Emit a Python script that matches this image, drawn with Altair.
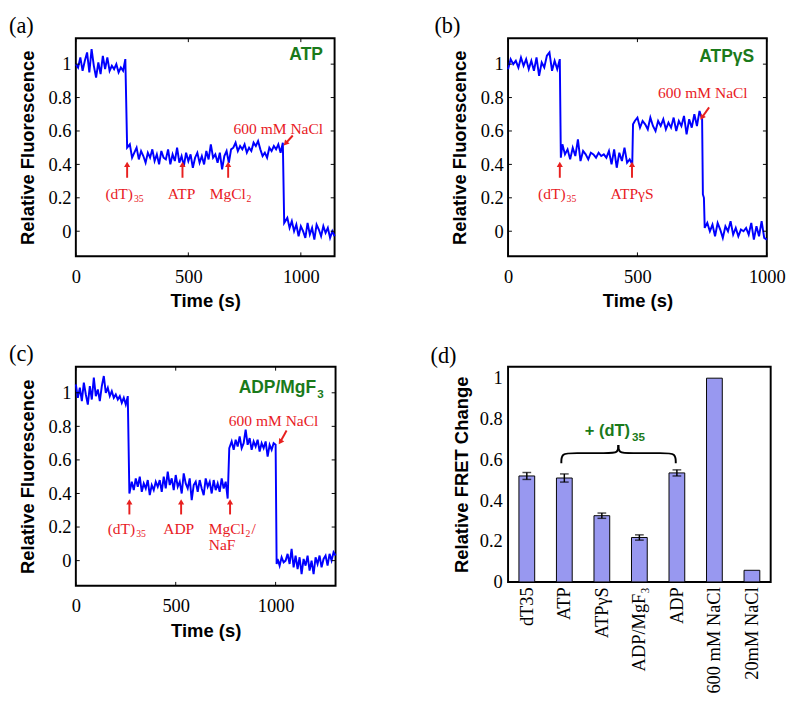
import altair as alt
import pandas as pd

BLUE = "#0000ff"
RED = "#e8201f"
GREEN = "#1a7a1a"
SERIF = "Liberation Serif"
SANS = "Liberation Sans"

# ---------------- data: (a) ATP ----------------
a_time = list(range(0, 221, 10)) + [228] + list(range(240, 921, 10)) + [926] + list(range(940, 1151, 10))
a_val = [
    1.00, 0.98, 1.04, 0.96, 1.02, 1.07, 0.95, 1.09, 0.99, 0.92, 1.01, 0.94, 1.05, 0.97, 1.04, 0.96,
    0.99, 0.97, 1.00, 0.95, 0.98, 0.96, 1.03,
    0.50, 0.52, 0.44, 0.47, 0.50, 0.43, 0.48,
    0.45, 0.41, 0.47, 0.44, 0.49, 0.42, 0.46, 0.40, 0.48, 0.44,
    0.43, 0.49, 0.40, 0.46, 0.42, 0.50, 0.41, 0.45, 0.39, 0.47,
    0.42, 0.46, 0.38, 0.44, 0.47, 0.41, 0.45, 0.40, 0.48, 0.43,
    0.52, 0.44, 0.46, 0.41, 0.47, 0.37, 0.45, 0.48, 0.41, 0.49,
    0.50, 0.53, 0.48, 0.51, 0.49, 0.52, 0.47, 0.50, 0.48, 0.53,
    0.51, 0.54, 0.49, 0.45, 0.47, 0.44, 0.50, 0.48, 0.51, 0.49,
    0.52, 0.47, 0.53,
    0.05, 0.08, 0.02, 0.06, 0.00, 0.04, -0.03, 0.03, 0.00, -0.04, 0.05, -0.02, 0.02, -0.05, 0.04,
    0.01, -0.03, 0.03, -0.01, 0.02, -0.04, 0.00, -0.03,
]

# ---------------- data: (b) ATPgammaS ----------------
b_time = (list(range(0, 201, 10)) + [204] + list(range(210, 481, 10)) + [483] + list(range(490, 751, 10))
          + [753, 757] + list(range(760, 1001, 10)))
b_val = [
    0.97, 1.03, 1.00, 1.02, 0.98, 1.04, 0.99, 1.03, 0.97, 1.02, 0.96, 1.04, 0.93, 1.01, 0.98, 1.05,
    1.07, 0.96, 1.02, 0.97, 1.03,
    0.44, 0.52, 0.46, 0.49, 0.43, 0.50, 0.45, 0.55, 0.42, 0.48, 0.46, 0.43, 0.47, 0.46, 0.44, 0.47,
    0.45, 0.46, 0.44, 0.48, 0.40, 0.49, 0.38, 0.47, 0.42, 0.50, 0.41, 0.43, 0.40,
    0.64, 0.66, 0.68, 0.62, 0.66, 0.64, 0.61, 0.68, 0.63, 0.60, 0.66, 0.63, 0.67, 0.61, 0.65, 0.62,
    0.68, 0.60, 0.66, 0.63, 0.69, 0.58, 0.67, 0.62, 0.70, 0.63, 0.72, 0.67,
    0.22, 0.20, 0.02, 0.05, 0.00, 0.04, -0.03, 0.05, 0.01, -0.04, 0.03, 0.00, 0.06, -0.02, 0.02,
    -0.03, 0.01, 0.00, 0.02, -0.02, 0.05, -0.05, 0.03, -0.03, 0.06, -0.04, -0.05,
]

# ---------------- data: (c) ADP/MgF3 ----------------
c_time = (list(range(0, 261, 10)) + [268] + list(range(280, 761, 10)) + [768] + list(range(780, 1001, 10))
          + [1005] + list(range(1010, 1301, 10)))
c_val = [
    1.05, 0.97, 1.03, 0.95, 1.06, 0.99, 0.93, 1.04, 0.96, 1.09, 0.98, 1.02, 0.95, 1.04, 1.10, 1.00,
    1.03, 0.98, 1.01, 0.97, 0.99, 0.96, 0.98, 0.94, 0.97, 0.93, 0.98,
    0.40, 0.47, 0.42, 0.49, 0.44, 0.50, 0.41, 0.46, 0.43, 0.48,
    0.39, 0.45, 0.42, 0.47, 0.44, 0.48, 0.41, 0.50, 0.43, 0.53,
    0.45, 0.49, 0.42, 0.51, 0.44, 0.47, 0.40, 0.52, 0.46, 0.43,
    0.49, 0.36, 0.45, 0.47, 0.41, 0.48, 0.43, 0.39, 0.49, 0.44,
    0.47, 0.40, 0.48, 0.42, 0.46, 0.41, 0.49, 0.43, 0.47, 0.37,
    0.67, 0.71, 0.66, 0.72, 0.68, 0.74, 0.67, 0.70, 0.78, 0.69,
    0.73, 0.66, 0.71, 0.68, 0.72, 0.65, 0.70, 0.67, 0.71, 0.62,
    0.69, 0.66, 0.70, 0.69,
    -0.02, 0.01, -0.03, 0.02, -0.01, 0.00, 0.04, -0.02, 0.07, -0.04,
    0.03, -0.05, 0.02, -0.08, 0.01, -0.03, 0.03, -0.06, 0.00, -0.08,
    0.02, -0.02, 0.03, -0.04, 0.01, 0.03, -0.03, 0.04, 0.00, 0.05, 0.03,
]

assert len(a_time) == len(a_val), (len(a_time), len(a_val))
assert len(b_time) == len(b_val), (len(b_time), len(b_val))
assert len(c_time) == len(c_val), (len(c_time), len(c_val))

# ---------------- data: (d) bar chart ----------------
d_cats = ["dT35", "ATP", "ATPγS", "ADP/MgF₃", "ADP", "600 mM NaCl", "20mM NaCl"]
d_vals = [0.52, 0.51, 0.325, 0.218, 0.535, 1.0, 0.057]
d_errs = [0.017, 0.02, 0.013, 0.013, 0.015, None, None]

XT = [0, 500, 1000]
YT = [0, 0.2, 0.4, 0.6, 0.8, 1]

# shared axis definitions (identical in every layer so that the merged axes survive)
AX_T = alt.Axis(values=XT, format="d", title="Time (s)", labelFlush=False, labelPadding=12, titlePadding=6)
AX_F = alt.Axis(values=YT, format="~g", title="Relative Fluorescence", labelPadding=5, titlePadding=11)
AX_C = alt.Axis(title=None, labelAngle=-90, labelPadding=5)
AX_R = alt.Axis(values=YT, format="~g", title="Relative FRET Change", labelPadding=6, titlePadding=8)


class P:
    """scales + axes of one panel"""
    def __init__(self, xs, ys, ax, ay):
        self.xs, self.ys, self.ax, self.ay = xs, ys, ax, ay

    def X(self, f):
        return alt.X(f, scale=self.xs, axis=self.ax)

    def Y(self, f):
        return alt.Y(f, scale=self.ys, axis=self.ay)


def time_p(xmax):
    return P(alt.Scale(domain=[0, xmax], nice=False, zero=False),
             alt.Scale(domain=[-0.15, 1.155], nice=False, zero=False), AX_T, AX_F)


def txt(p, t, v, s, size=16, color=RED, align="center", dx=0, dy=0, font=SERIF, weight="normal"):
    df = pd.DataFrame({"t": [t], "v": [v], "s": [s]})
    return alt.Chart(df).mark_text(font=font, fontSize=size, color=color, align=align,
                                   baseline="middle", dx=dx, dy=dy, fontWeight=weight).encode(
        x=p.X("t:Q"), y=p.Y("v:Q"), text="s:N")


def arrow(p, t0, v0, t1, v1, angle=0):
    df = pd.DataFrame({"t0": [t0], "v0": [v0], "t1": [t1], "v1": [v1]})
    shaft = alt.Chart(df).mark_rule(color=RED, strokeWidth=2).encode(
        x=p.X("t0:Q"), x2="t1:Q", y=p.Y("v0:Q"), y2="v1:Q")
    head = alt.Chart(df).mark_point(shape="triangle-up", filled=True, size=40, color=RED,
                                    opacity=1, angle=angle).encode(x=p.X("t1:Q"), y=p.Y("v1:Q"))
    return [shaft, head]


def frame_ticks(p, W, H):
    xt = pd.DataFrame({"t": XT})
    yt = pd.DataFrame({"v": YT})
    L = 4
    out = []
    for y1, y2 in [(H, H - L), (0, L)]:
        out.append(alt.Chart(xt).mark_rule(color="black", strokeWidth=1).encode(
            x=p.X("t:Q"), y=alt.value(y1), y2=alt.value(y2)))
    for x1, x2 in [(0, L), (W, W - L)]:
        out.append(alt.Chart(yt).mark_rule(color="black", strokeWidth=1).encode(
            y=p.Y("v:Q"), x=alt.value(x1), x2=alt.value(x2)))
    return out


def pix_text(x, y, s, size, color="black", font=SERIF, weight="normal", align="left", baseline="alphabetic"):
    return alt.Chart(pd.DataFrame({"s": [s]})).mark_text(
        font=font, fontSize=size, color=color, fontWeight=weight, align=align, baseline=baseline).encode(
        x=alt.value(x), y=alt.value(y), text="s:N")


def trace(p, times, vals):
    return alt.Chart(pd.DataFrame({"t": times, "v": vals})).mark_line(color=BLUE, strokeWidth=2).encode(
        x=p.X("t:Q"), y=p.Y("v:Q"))


# ---------------- panel (a) ----------------
W, H = 267, 225
p = time_p(1150)
la = [trace(p, a_time, a_val)] + frame_ticks(p, W, H)
for t in [228, 474, 677]:
    la += arrow(p, t, 0.32, t, 0.40)
la += arrow(p, 964, 0.573, 932, 0.525, angle=222)
la += [
    txt(p, 228, 0.22, "(dT)", align="right", dx=6),
    txt(p, 228, 0.22, "35", size=10, align="left", dx=7, dy=5),
    txt(p, 470, 0.22, "ATP"),
    txt(p, 677, 0.22, "MgCl", align="left", dx=-19),
    txt(p, 677, 0.22, "2", size=10, align="left", dx=19, dy=5),
    txt(p, 900, 0.61, "600 mM NaCl"),
    pix_text(W - 12, 17, "ATP", 18, color=GREEN, font=SANS, weight="bold", align="right", baseline="middle"),
    pix_text(-69, -5, "(a)", 23),
]
panel_a = alt.layer(*la).properties(width=W, height=H)

# ---------------- panel (b) ----------------
W, H = 267, 225
p = time_p(1000)
lb = [trace(p, b_time, b_val)] + frame_ticks(p, W, H)
for t in [200, 479]:
    lb += arrow(p, t, 0.32, t, 0.40)
lb += arrow(p, 777, 0.741, 749, 0.68, angle=213)
lb += [
    txt(p, 200, 0.22, "(dT)", align="right", dx=6),
    txt(p, 200, 0.22, "35", size=10, align="left", dx=7, dy=5),
    txt(p, 479, 0.22, "ATPγS"),
    txt(p, 753, 0.825, "600 mM NaCl"),
    pix_text(W - 13, 20, "ATPγS", 18, color=GREEN, font=SANS, weight="bold", align="right", baseline="middle"),
    pix_text(-76, -5, "(b)", 23),
]
panel_b = alt.layer(*lb).properties(width=W, height=H)

# ---------------- panel (c) ----------------
W, H = 268, 226
p = time_p(1300)
lc = [trace(p, c_time, c_val)] + frame_ticks(p, W, H)
for t in [268, 527, 772]:
    lc += arrow(p, t, 0.275, t, 0.35)
lc += arrow(p, 1055, 0.775, 1023, 0.707, angle=213)
lc += [
    txt(p, 268, 0.187, "(dT)", align="right", dx=6),
    txt(p, 268, 0.187, "35", size=10, align="left", dx=7, dy=5),
    txt(p, 515, 0.187, "ADP"),
    txt(p, 772, 0.187, "MgCl", align="left", dx=-22),
    txt(p, 772, 0.187, "2", size=10, align="left", dx=16, dy=5),
    txt(p, 772, 0.187, "/", align="left", dx=22),
    txt(p, 772, 0.09, "NaF", align="left", dx=-22),
    txt(p, 990, 0.832, "600 mM NaCl"),
    pix_text(W - 20, 22, "ADP/MgF", 18, color=GREEN, font=SANS, weight="bold", align="right", baseline="middle"),
    pix_text(W - 19, 28, "3", 12, color=GREEN, font=SANS, weight="bold", align="left", baseline="middle"),
    pix_text(-69, -6, "(c)", 23),
]
panel_c = alt.layer(*lc).properties(width=W, height=H)

# ---------------- panel (d) ----------------
W, H = 271, 222
band = alt.Scale(domain=d_cats, paddingInner=0.58, paddingOuter=0.29)
dys = alt.Scale(domain=[0, 1.056], nice=False, zero=False)
pd_bar = P(band, dys, AX_C, AX_R)
dfb = pd.DataFrame({"c": d_cats, "f": d_vals, "e": d_errs})
dfb["lo"] = dfb["f"] - dfb["e"]
dfb["hi"] = dfb["f"] + dfb["e"]
eb = dfb.dropna()

bars = alt.Chart(dfb).mark_bar(fill="#9898f0", stroke="black", strokeWidth=1).encode(
    x=alt.X("c:N", scale=band, sort=d_cats, axis=AX_C), y=pd_bar.Y("f:Q"))
err_rule = alt.Chart(eb).mark_rule(color="black", strokeWidth=1.5).encode(
    x=alt.X("c:N", scale=band, sort=d_cats, axis=AX_C), y=pd_bar.Y("lo:Q"), y2="hi:Q")
cap_lo = alt.Chart(eb).mark_tick(color="black", thickness=1.5, size=9).encode(
    x=alt.X("c:N", scale=band, sort=d_cats, axis=AX_C), y=pd_bar.Y("lo:Q"))
cap_hi = alt.Chart(eb).mark_tick(color="black", thickness=1.5, size=9).encode(
    x=alt.X("c:N", scale=band, sort=d_cats, axis=AX_C), y=pd_bar.Y("hi:Q"))

q = alt.Scale(domain=[0, 7], nice=False, zero=False)
pq = P(q, dys, None, AX_R)
brace_df = pd.DataFrame({
    "bx": [1.42, 1.42, 1.75, 2.65, 2.94, 2.94, 4.47, 4.47, 4.14, 3.24, 2.94, 2.94],
    "by": [0.582, 0.632, 0.632, 0.632, 0.632, 0.672] * 2,
    "side": ["L"] * 6 + ["R"] * 6,
    "o": list(range(6)) * 2,
})
brace = alt.Chart(brace_df).mark_line(interpolate="basis", color="black", strokeWidth=2).encode(
    x=alt.X("bx:Q", scale=q, axis=None), y=pq.Y("by:Q"),
    detail="side:N", order="o:Q")
g1 = txt(pq, 2.94, 0.741, "+ (dT)", size=17, color=GREEN, align="right", dx=12, font=SANS, weight="bold")
g2 = txt(pq, 2.94, 0.741, "35", size=12, color=GREEN, align="left", dx=14, dy=6, font=SANS, weight="bold")

panel_d = alt.layer(
    alt.layer(bars, err_rule, cap_lo, cap_hi),
    alt.layer(brace, g1, g2, pix_text(-80, -4, "(d)", 23)),
).resolve_scale(x="independent").properties(width=W, height=H)

chart = alt.concat(
    panel_a, panel_b, panel_c, panel_d,
    columns=2, spacing={"row": 114, "column": 178}, bounds="flush",
).properties(
    padding={"left": 0, "top": -4, "right": 6, "bottom": 6}
).configure_view(
    stroke="black", strokeWidth=2
).configure_axis(
    domain=False, ticks=False, grid=False,
    labelFont=SERIF, labelFontSize=19, labelColor="black",
    titleFont=SANS, titleFontSize=19, titleFontWeight="bold", titleColor="black",
)

chart.save("out.html", embed_options={"renderer": "svg", "actions": False})
